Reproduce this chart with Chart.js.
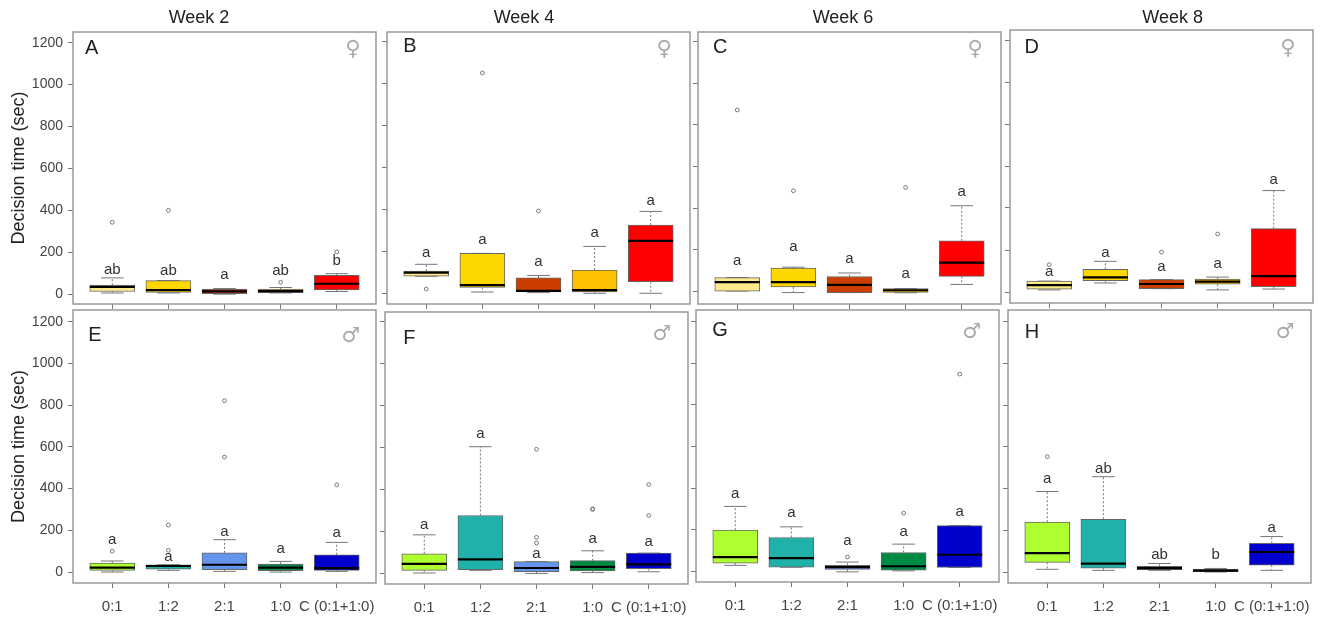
<!DOCTYPE html>
<html lang="en">
<head>
  <meta charset="UTF-8" />
  <title>Decision time boxplots</title>
  <script src="https://cdn.jsdelivr.net/npm/chart.js"></script>
  <style>
    html, body { margin: 0; padding: 0; background: #fff; }
    body { width: 1333px; height: 617px; position: relative; overflow: hidden; }
    canvas { position: absolute; }
  </style>
</head>
<body>
<script>
  // --- data, one row per panel (A..H) ---
  const categories = ["0:1", "1:2", "2:1", "1:0", "C (0:1+1:0)"];
  const panelLetters = ["A", "B", "C", "D", "E", "F", "G", "H"];
  const weeks = ["Week 2", "Week 4", "Week 6", "Week 8"];
  const yTicks = [0, 200, 400, 600, 800, 1000, 1200];
  const femaleColors = ["#FFE98A", "#FFD700", "#CC3D00", "#FFC000", "#FF0000"];
  const maleColors = ["#ADFF2F", "#20B2AA", "#6495ED", "#008B45", "#0000CD"];

  const q1 = [
    [13, 8, 3, 7, 21],
    [83, 30, 8, 8, 57],
    [2, 22, -5, -4, 73],
    [13, 54, 16, 37, 25],
    [8, 14, 11, 6, 8],
    [13, 16, 6, 10, 21],
    [40, 21, 10, 6, 19],
    [46, 18, 11, 2, 33]
  ];
  const medians = [
    [35, 20, 14, 15, 50],
    [100, 41, 13, 17, 252],
    [45, 45, 32, 6, 139],
    [33, 70, 38, 49, 76],
    [21, 29, 35, 21, 19],
    [44, 65, 24, 29, 41],
    [69, 64, 21, 25, 80],
    [91, 40, 19, 7, 96]
  ];
  const q3 = [
    [43, 65, 24, 24, 90],
    [108, 192, 75, 113, 327],
    [67, 113, 72, 14, 244],
    [52, 108, 59, 62, 302],
    [43, 35, 92, 38, 83],
    [92, 274, 54, 59, 95],
    [198, 163, 29, 91, 220],
    [239, 253, 27, 13, 137]
  ];
  const whiskerLow = [
    [6, 6, 0, 6, 13],
    [83, 8, 5, 2, 2],
    [2, -5, -5, -6, 34],
    [10, 43, 16, 10, 14],
    [0, 8, 3, 0, 3],
    [0, 13, -2, 2, 6],
    [29, 20, -2, 3, 19],
    [13, 8, 8, 0, 8]
  ];
  const whiskerHigh = [
    [78, 65, 27, 32, 98],
    [140, 192, 87, 225, 392],
    [67, 117, 89, 14, 412],
    [52, 146, 59, 71, 483],
    [53, 35, 155, 51, 142],
    [182, 602, 54, 106, 95],
    [312, 214, 45, 131, 220],
    [386, 457, 41, 17, 170]
  ];
  const outliers = [
    [[343], [400], [], [57], [202]],
    [[22], [1051], [394], [], []],
    [[872], [484], [], [500], []],
    [[130], [], [190], [276], []],
    [[100], [225, 104], [821, 551], [], [418]],
    [[], [], [590, 170, 143], [306, 303], [422, 274]],
    [[], [], [69], [280], [947]],
    [[553], [], [], [], []]
  ];
  const sigLetters = [
    ["ab", "ab", "a", "ab", "b"],
    ["a", "a", "a", "a", "a"],
    ["a", "a", "a", "a", "a"],
    ["a", "a", "a", "a", "a"],
    ["a", "a", "a", "a", "a"],
    ["a", "a", "a", "a", "a"],
    ["a", "a", "a", "a", "a"],
    ["a", "ab", "ab", "b", "a"]
  ];
  const sigHeights = [
    [117, 113, 90, 113, 157],
    [195, 255, 152, 290, 440],
    [145, 214, 157, 86, 481],
    [97, 187, 120, 132, 535],
    [155, 73, 194, 113, 188],
    [231, 661, 92, 162, 149],
    [371, 280, 147, 188, 287],
    [445, 496, 83, 81, 210]
  ];

  // --- layout of the panels, in page pixels ---
  // left, right, top, bottom of the frame, y of tick 0 and y of tick 1200
  const frames = [
    [73, 376.7, 32, 304.5, 294.7, 42.7],
    [387, 690, 32, 304, 293.7, 41.7],
    [697.7, 1001, 32, 304.5, 292, 41.7],
    [1010, 1313, 30, 303, 292, 40],
    [73, 376.7, 310, 583.7, 572.7, 321.7],
    [385, 688, 311.7, 584.3, 573.3, 321],
    [696, 999.3, 310.3, 583.3, 572.7, 321.7],
    [1008, 1311, 310, 583.3, 572.3, 321.7]
  ];
  const letterSpots = [[91.7, 48], [410, 46], [720, 47.7], [1031.7, 47.7], [95, 335.7], [409.3, 338], [720, 331], [1032, 332.7]];
  const symbolSpots = [[353, 50], [664.3, 50], [975, 50], [1288, 49], [350.7, 336.7], [661.7, 334.3], [971.7, 333.3], [1285, 332.7]];
  const weekSpots = [[199, 18], [524, 18], [842.7, 18], [1172.7, 18]];

  Chart.defaults.font.family = "'Liberation Sans', Arial, sans-serif";

  // frame, panel letter, sex symbol, week title and the significance letters
  const panelText = {
    id: "panelText",
    afterDraw(chart, args, opts) {
      const { ctx, chartArea: a, scales } = chart;
      ctx.save();
      ctx.strokeStyle = "#999";
      ctx.lineWidth = 1.5;
      ctx.strokeRect(a.left, a.top, a.right - a.left, a.bottom - a.top);

      ctx.textAlign = "center";
      ctx.textBaseline = "middle";

      ctx.fillStyle = "#333";
      ctx.font = "15px 'Liberation Sans'";
      opts.letters.forEach((txt, i) => {
        ctx.fillText(txt, scales.x.getPixelForValue(i + 1), scales.y.getPixelForValue(opts.heights[i]));
      });

      ctx.fillStyle = "#222";
      ctx.font = "20px 'Liberation Sans'";
      ctx.fillText(opts.letter, opts.letterAt[0], opts.letterAt[1]);

      ctx.fillStyle = "#aaa";
      ctx.font = "21px 'DejaVu Sans'";
      ctx.fillText(opts.symbol, opts.symbolAt[0], opts.symbolAt[1]);

      if (opts.week) {
        ctx.fillStyle = "#222";
        ctx.font = "18px 'Liberation Sans'";
        ctx.fillText(opts.week, opts.weekAt[0], opts.weekAt[1]);
      }
      ctx.restore();
    }
  };

  function addPanel(p) {
    const [fl, fr, ft, fb, y0, y1200] = frames[p];
    const isTop = p < 4;
    const isFirst = p % 4 === 0;
    const colors = isTop ? femaleColors : maleColors;

    const gutterL = isFirst ? fl : 8;
    const gutterR = 8;
    const gutterT = isTop ? ft : 4;
    const gutterB = isTop ? 8 : 33;

    const canvas = document.createElement("canvas");
    const canvasLeft = fl - gutterL;
    const canvasTop = ft - gutterT;
    canvas.style.left = canvasLeft + "px";
    canvas.style.top = canvasTop + "px";
    canvas.width = fr - fl + gutterL + gutterR;
    canvas.height = fb - ft + gutterT + gutterB;
    canvas.style.width = canvas.width + "px";
    canvas.style.height = canvas.height + "px";
    document.body.appendChild(canvas);

    const pxPerUnit = (y0 - y1200) / 1200;
    const shift = spot => [spot[0] - canvasLeft, spot[1] - canvasTop];

    const stems = [];
    const capPoints = [];
    const outlierPoints = [];
    categories.forEach((c, i) => {
      stems.push({ x: i + 1, y: q3[p][i] }, { x: i + 1, y: whiskerHigh[p][i] }, { x: i + 1, y: null });
      stems.push({ x: i + 1, y: q1[p][i] }, { x: i + 1, y: whiskerLow[p][i] }, { x: i + 1, y: null });
      capPoints.push({ x: i + 1, y: whiskerHigh[p][i] }, { x: i + 1, y: whiskerLow[p][i] });
      outliers[p][i].forEach(v => outlierPoints.push({ x: i + 1, y: v }));
    });

    new Chart(canvas, {
      data: {
        datasets: [
          {
            type: "line",
            data: stems,
            borderColor: "#777",
            borderWidth: 1,
            borderDash: [2, 2],
            pointRadius: 0,
            spanGaps: false,
            order: 5
          },
          {
            type: "scatter",
            data: capPoints,
            pointStyle: "line",
            pointRadius: 11.3,
            borderColor: "#777",
            borderWidth: 1,
            order: 4
          },
          {
            type: "bar",
            data: categories.map((c, i) => ({ x: i + 1, y: [q1[p][i], q3[p][i]] })),
            backgroundColor: colors,
            borderColor: "#666",
            borderWidth: 1,
            borderSkipped: false,
            barThickness: 45,
            grouped: false,
            order: 3
          },
          {
            type: "scatter",
            data: medians[p].map((v, i) => ({ x: i + 1, y: v })),
            pointStyle: "line",
            pointRadius: 22.5,
            borderColor: "#000",
            borderWidth: 2.2,
            order: 2
          },
          {
            type: "scatter",
            data: outlierPoints,
            pointStyle: "circle",
            pointRadius: 1.9,
            backgroundColor: "rgba(255,255,255,0)",
            borderColor: "#777",
            borderWidth: 1,
            order: 1
          }
        ]
      },
      options: {
        responsive: false,
        animation: false,
        events: [],
        layout: { autoPadding: false, padding: { left: 0, top: gutterT, right: gutterR, bottom: 0 } },
        scales: {
          x: {
            type: "linear",
            min: 0.3,
            max: 5.7,
            offset: false,
            afterBuildTicks: s => { s.ticks = categories.map((c, i) => ({ value: i + 1 })); },
            afterFit: s => { s.height = gutterB; s.paddingLeft = 0; s.paddingRight = 0; },
            grid: { offset: false, drawOnChartArea: false, color: "#777", tickLength: 5 },
            border: { display: false },
            ticks: {
              display: !isTop,
              autoSkip: false,
              maxRotation: 0,
              padding: 10,
              color: "#444",
              font: { size: 15 },
              callback: v => categories[v - 1]
            }
          },
          y: {
            type: "linear",
            min: -(fb - y0) / pxPerUnit,
            max: (y0 - ft) / pxPerUnit,
            afterBuildTicks: s => { s.ticks = yTicks.map(v => ({ value: v })); },
            afterFit: s => { s.width = gutterL; s.paddingTop = 0; s.paddingBottom = 0; },
            grid: { drawOnChartArea: false, color: "#777", tickLength: 5 },
            border: { display: false },
            title: {
              display: isFirst,
              text: "Decision time (sec)",
              color: "#222",
              font: { size: 18 },
              padding: { top: 8, bottom: 0 }
            },
            ticks: {
              display: isFirst,
              padding: 5,
              color: "#444",
              font: { size: 14 },
              callback: v => String(v)
            }
          }
        },
        plugins: {
          legend: { display: false },
          tooltip: { enabled: false },
          panelText: {
            letters: sigLetters[p],
            heights: sigHeights[p],
            letter: panelLetters[p],
            letterAt: shift(letterSpots[p]),
            symbol: isTop ? "\u2640" : "\u2642",
            symbolAt: shift(symbolSpots[p]),
            week: isTop ? weeks[p] : "",
            weekAt: isTop ? shift(weekSpots[p]) : null
          }
        }
      },
      plugins: [panelText]
    });
  }

  panelLetters.forEach((l, p) => addPanel(p));
</script>
</body>
</html>
